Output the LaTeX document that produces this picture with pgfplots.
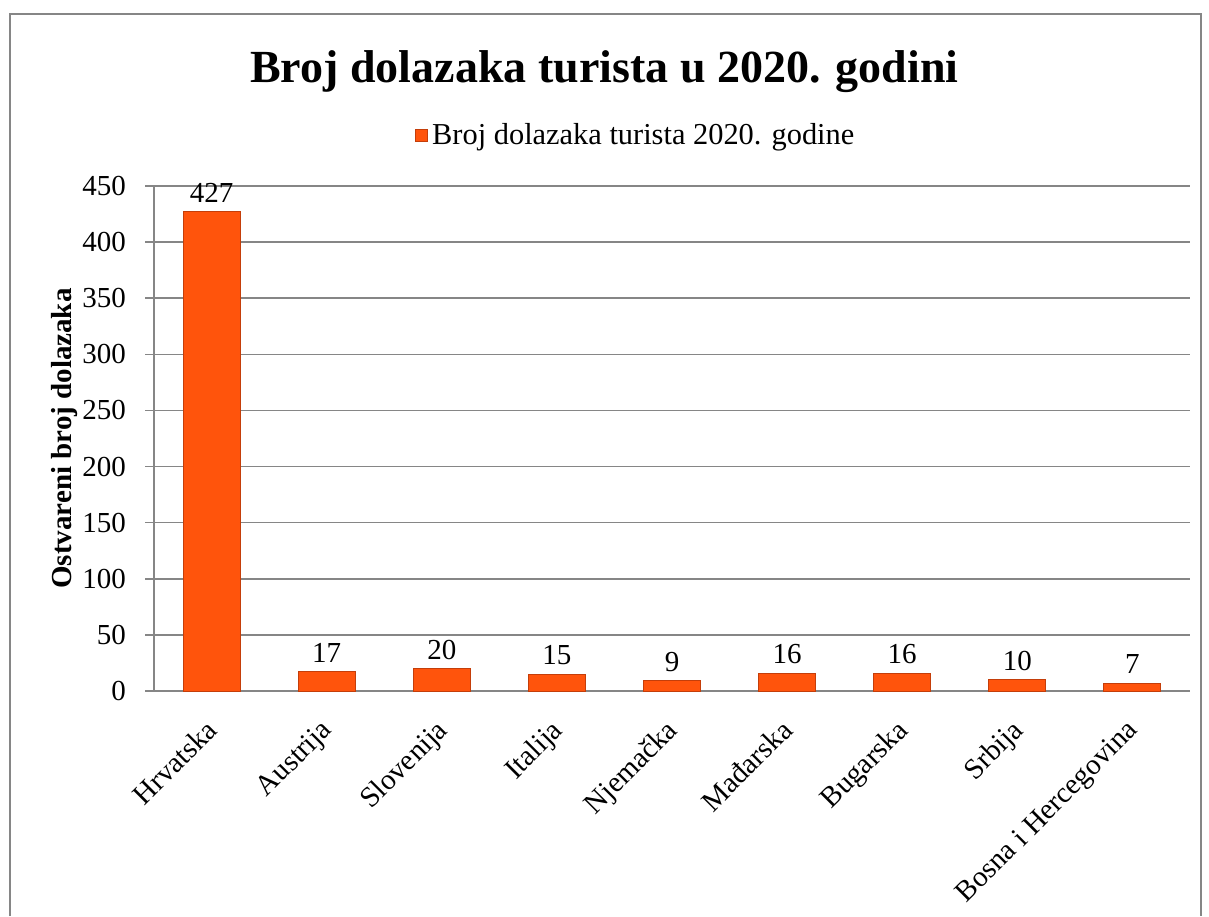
\documentclass[border=0pt]{standalone}
\usepackage{fontspec}
\setmainfont{Liberation Serif}
\usepackage{pgfplots}
\pgfplotsset{compat=1.18}

\definecolor{barfill}{RGB}{255,84,12}
\definecolor{baredge}{RGB}{196,62,10}
\definecolor{gridgray}{RGB}{134,134,134}

\newcommand{\lbl}{\fontsize{14.5}{17}\selectfont}

\begin{document}
\begin{tikzpicture}
\useasboundingbox (0,0) rectangle (604.5pt,458pt);
% outer frame (bottom edge falls outside the picture)
\draw[gridgray, line width=1pt] (4.75pt,0) -- (4.75pt,451pt) -- (600.5pt,451pt) -- (600.5pt,0);

\begin{axis}[
    at={(77pt,112.5pt)}, anchor=south west,
    scale only axis,
    width=518pt, height=252.5pt,
    ybar, bar width=28.5pt,
    xmin=-0.5, xmax=8.5,
    ymin=0, ymax=450,
    ytick={0,50,...,450},
    xtick={0,...,8},
    xticklabels={Hrvatska,Austrija,Slovenija,Italija,Njemačka,Mađarska,Bugarska,Srbija,Bosna i Hercegovina},
    x tick label style={rotate=45, anchor=north east, font=\lbl, inner sep=1pt, xshift=-7.7pt, yshift=-2.6pt},
    y tick label style={font=\lbl, xshift=-6pt},
    major x tick style={draw=none},
    extra x ticks={-0.5,0.5,...,8.5},
    extra x tick labels={},
    extra x tick style={major tick length=4.5pt, tick style={gridgray, line width=0.8pt}, grid=none},
    tick align=outside,
    major tick length=4.5pt,
    tick style={gridgray, line width=0.8pt},
    ytick pos=left, xtick pos=bottom,
    axis x line*=bottom, axis y line*=left,
    axis line style={gridgray, line width=0.8pt, -},
    ymajorgrids=true,
    grid style={gridgray, line width=0.8pt},
    ylabel={\textbf{Ostvareni broj dolazaka}},
    ylabel style={at={(axis description cs:-0.086,0.5)}, anchor=center, font=\lbl},
    /pgf/number format/assume math mode=true,
    nodes near coords,
    nodes near coords style={font=\lbl, black, yshift=1pt},
    legend style={at={(axis description cs:0.466,1.101)}, anchor=center, draw=none,
        font=\fontsize{15.2}{18}\selectfont, inner sep=1pt},
    legend image code/.code={\draw[fill=barfill, draw=baredge] (0pt,-3pt) rectangle (6pt,3pt);},
]
\addplot[fill=barfill, draw=baredge, line width=0.5pt] coordinates {
    (0,427) (1,17) (2,20) (3,15) (4,9) (5,16) (6,16) (7,10) (8,7)
};
\addlegendentry{Broj dolazaka turista 2020. godine}
\end{axis}

\node[font=\fontsize{23}{27}\selectfont\bfseries] at (302.25pt,422pt) {Broj dolazaka turista u 2020. godini};
\end{tikzpicture}
\end{document}
